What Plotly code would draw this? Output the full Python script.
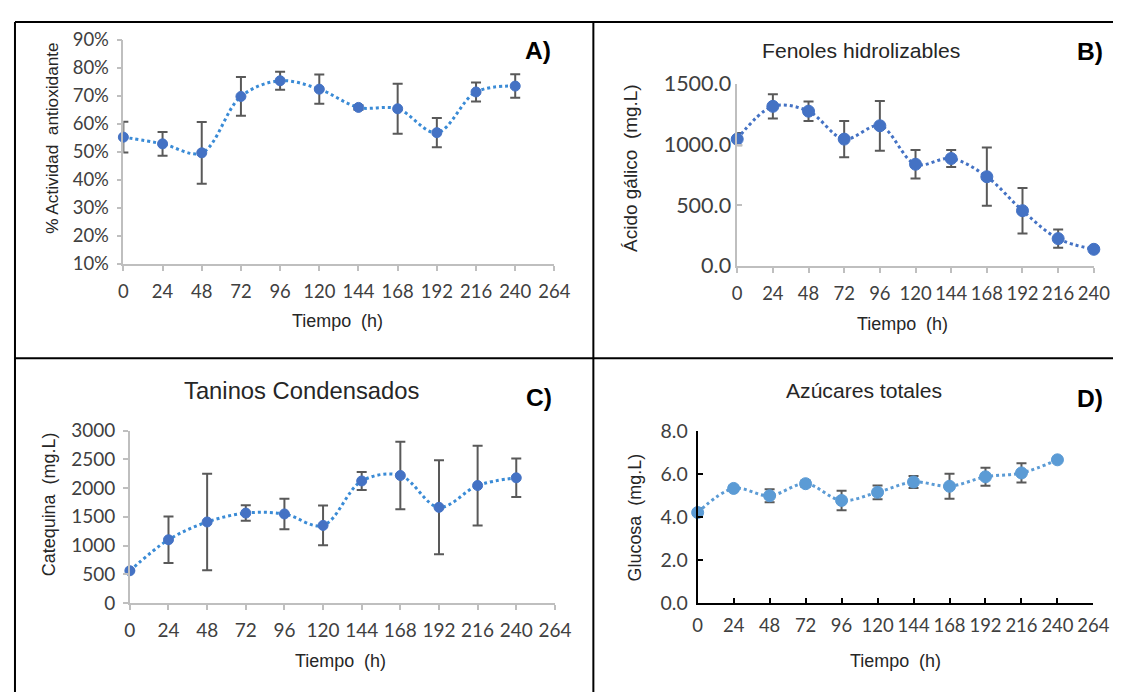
import plotly.graph_objects as go

# time points (h)
tiempo = [0, 24, 48, 72, 96, 120, 144, 168, 192, 216, 240]

# A) % actividad antioxidante
act_antiox = [55.2, 52.8, 49.6, 69.7, 75.3, 72.3, 65.8, 65.3, 56.8, 71.3, 73.4]
act_antiox_err = [5.5, 4.2, 11.0, 6.9, 3.2, 5.2, 0.8, 8.9, 5.2, 3.4, 4.2]

# B) fenoles hidrolizables (acido galico mg.L)
fenoles = [1045, 1315, 1275, 1045, 1155, 838, 885, 735, 455, 225, 137]
fenoles_err = [50, 100, 80, 150, 205, 118, 70, 240, 188, 75, 0]

# C) taninos condensados (catequina mg.L)
taninos = [560, 1100, 1410, 1565, 1550, 1350, 2125, 2220, 1665, 2045, 2180]
taninos_err = [0, 407, 840, 135, 265, 346, 156, 588, 819, 695, 335]

# D) azucares totales (glucosa mg.L)
azucares = [4.2, 5.32, 4.98, 5.54, 4.76, 5.14, 5.62, 5.42, 5.86, 6.04, 6.65]
azucares_err = [0.2, 0.1, 0.3, 0.15, 0.45, 0.32, 0.28, 0.58, 0.42, 0.45, 0]

OFF = 8
W, H = 1130, 700
# correction measured from earlier renders (picture pixels -> figure pixels)
SX, CX = 0.9807, 5.17
SY, CY = 0.9696, 10.6
FS = 1 / 0.975

TXTFONT = "Liberation Sans"


def tfont(size):
    return dict(family="Lato", size=size * FS, color="#404040")


def fx(p):
    return min(max((p - CX) / SX - OFF, 1), W)


def fy(p):
    return min(max((p - CY) / SY - OFF, 1), H)


def px_x(p):
    return fx(p) / W


def px_y(p):
    return 1 - fy(p) / H


def serie(x, y, err, xa, ya, mcolor, lcolor, msize):
    return go.Scatter(
        x=x, y=y, xaxis=xa, yaxis=ya, mode="lines+markers",
        line=dict(shape="spline", smoothing=1, dash="dot", width=3, color=lcolor),
        marker=dict(size=msize, color=mcolor, line=dict(width=1, color=mcolor)),
        error_y=dict(type="data", array=err, visible=True, color="#595959",
                     thickness=2, width=5),
        cliponaxis=False, showlegend=False,
    )


fig = go.Figure()
fig.add_trace(serie(tiempo, act_antiox, act_antiox_err, "x", "y", "#4472C4", "#3A8BD6", 10))
fig.add_trace(serie(tiempo, fenoles, fenoles_err, "x2", "y2", "#4472C4", "#4472C4", 12))
fig.add_trace(serie(tiempo, taninos, taninos_err, "x3", "y3", "#4472C4", "#3A8BD6", 10))
fig.add_trace(serie(tiempo, azucares, azucares_err, "x4", "y4", "#5B9BD5", "#5B9BD5", 12))

gray = "#BFBFBF"


def xax(dom, rng, anchor, fsize, color=gray, ticks="outside", lw=1.5):
    return dict(domain=[px_x(dom[0]), px_x(dom[1])], range=rng, anchor=anchor,
                tickmode="linear", tick0=0, dtick=24, ticks=ticks, ticklen=5,
                tickcolor=color, tickwidth=lw, showline=True, linecolor=color,
                linewidth=lw, showgrid=False, zeroline=False, tickangle=0,
                tickfont=tfont(fsize), ticklabelstandoff=5)


def yax(dom, rng, dtick, anchor, fsize, color=gray, ticks="outside", lw=1.5,
        standoff=4, **kw):
    return dict(domain=[px_y(dom[1]), px_y(dom[0])], range=rng, anchor=anchor,
                tickmode="linear", tick0=rng[0], dtick=dtick, ticks=ticks,
                ticklen=5, tickcolor=color, tickwidth=lw, showline=True,
                linecolor=color, linewidth=lw, showgrid=False, zeroline=False,
                tickfont=tfont(fsize), ticklabelstandoff=standoff, **kw)


fig.update_layout(
    width=W, height=H, margin=dict(l=0, r=0, t=0, b=0),
    paper_bgcolor="white", plot_bgcolor="white",
    xaxis=xax((122.5, 554), [0, 264], "y", 18),
    yaxis=yax((37, 263), [10, 90], 10, "x", 18, ticksuffix="%"),
    xaxis2=xax((737, 1094), [0, 240], "y2", 18),
    yaxis2=yax((81.7, 265), [0, 1500], 500, "x2", 21, ticks="inside",
               standoff=0, tickformat=".1f"),
    xaxis3=xax((129, 554.5), [0, 264], "y3", 18.5),
    yaxis3=yax((431, 604.3), [0, 3000], 500, "x3", 18.5),
    xaxis4=xax((697.4, 1093.6), [0, 264], "y4", 18, color="black", ticks="inside", lw=2),
    yaxis4=yax((431, 604.3), [0, 8], 2, "x4", 19, color="black", ticks="inside", lw=2,
               tickformat=".1f"),
)

# texts: (text, x, y, size, bold, angle)
textos = [
    ("A)", 538, 48, 24, True, 0),
    ("B)", 1090, 49, 24, True, 0),
    ("C)", 539, 397, 24, True, 0),
    ("D)", 1090, 398, 24, True, 0),
    ("Fenoles hidrolizables", 861, 48, 20.6, False, 0),
    ("Taninos Condensados", 301, 390, 23.2, False, 0),
    ("Azúcares totales", 864, 390, 20.6, False, 0),
    ("Tiempo\u00a0 (h)", 337, 320, 17.5, False, 0),
    ("Tiempo\u00a0 (h)", 902, 323, 17.5, False, 0),
    ("Tiempo\u00a0 (h)", 340, 663, 17.5, False, 0),
    ("Tiempo\u00a0 (h)", 895, 663, 17.5, False, 0),
    ("% Actividad\u00a0 antioxidante", 51, 136, 16.8, False, -90),
    ("Ácido gálico\u00a0 (mg.L)", 630, 166, 18.5, False, -90),
    ("Catequina\u00a0 (mg.L)", 48, 505, 17.5, False, -90),
    ("Glucosa\u00a0 (mg.L)", 635, 518, 17.5, False, -90),
]
for t, x, y, s, b, ang in textos:
    fig.add_annotation(
        text="<b>%s</b>" % t if b else t, x=px_x(x), y=px_y(y),
        xref="paper", yref="paper", showarrow=False, textangle=ang,
        xanchor="center", yanchor="middle",
        font=dict(family=TXTFONT, size=s * FS, color="black" if b else "#262626"),
    )

# panel frame lines
for x0, y0, x1, y1 in [(8, 12, 1121, 12), (9, 12, 9, 694), (593, 0, 593, 694),
                       (8, 358, 1121, 358)]:
    fig.add_shape(type="line", xref="paper", yref="paper",
                  x0=px_x(x0), y0=px_y(y0), x1=px_x(x1), y1=px_y(y1),
                  line=dict(color="black", width=2))

fig.write_html("out.html")
